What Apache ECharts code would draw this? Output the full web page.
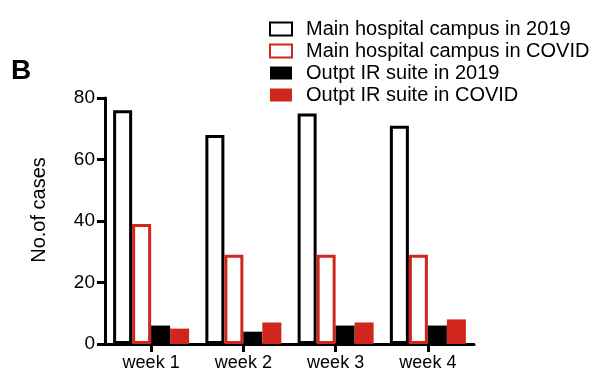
<!DOCTYPE html>
<html>
<head>
<meta charset="utf-8">
<script src="https://cdn.jsdelivr.net/npm/echarts@6/dist/echarts.min.js"></script>
<style>
  html, body { margin: 0; padding: 0; background: #fff; }
  #chart { width: 596px; height: 375px; }
</style>
</head>
<body>
<div id="chart"></div>
<script>
// Weekly case counts: main hospital campus vs. outpatient IR suite
const weeks = ['week 1', 'week 2', 'week 3', 'week 4'];
const seriesNames = [
  'Main hospital campus in 2019',
  'Main hospital campus in COVID',
  'Outpt IR suite in 2019',
  'Outpt IR suite in COVID'
];
const mainCampus2019 = [76, 68, 75, 71];
const mainCampusCovid = [39, 29, 29, 29];
const outptIR2019 = [6, 4, 6, 6];
const outptIRCovid = [5, 7, 7, 8];
const yTicks = { min: 0, max: 80, interval: 20 };

const RED = '#d0261b';
const FONT = 'Liberation Sans, Arial, Helvetica, sans-serif';

const chart = echarts.init(document.getElementById('chart'), null, { renderer: 'canvas' });

function barSeries(name, data, fill, stroke, bw) {
  return {
    name: name,
    type: 'bar',
    xAxisIndex: 0,
    yAxisIndex: 0,
    data: data,
    barWidth: 19,
    barGap: '0%',
    itemStyle: { color: fill, borderColor: stroke, borderWidth: bw },
    emphasis: { disabled: true }
  };
}

const tickStyle = { show: true, length: 8, lineStyle: { color: '#000', width: 3 } };

chart.setOption({
  animation: false,
  textStyle: { fontFamily: FONT },
  grid: { left: 105, right: 122, top: 98, bottom: 31, containLabel: false },
  legend: {
    orient: 'vertical',
    left: 269,
    top: 19,
    padding: 0,
    itemWidth: 22,
    itemHeight: 13,
    itemGap: 2,
    icon: 'rect',
    selectedMode: false,
    textStyle: { fontSize: 20, color: '#000', fontFamily: FONT, padding: [0, 0, 0, 9] },
    data: seriesNames
  },
  xAxis: [
    {
      // labelled category axis
      type: 'category',
      data: weeks,
      axisLine: { show: true, lineStyle: { color: '#000', width: 3 } },
      axisTick: { show: false },
      axisLabel: { color: '#000', fontSize: 18, margin: 10, fontFamily: FONT }
    },
    {
      // tick marks only
      type: 'category',
      data: weeks,
      position: 'bottom',
      axisLine: { show: false },
      axisTick: Object.assign({ alignWithLabel: true }, tickStyle),
      axisLabel: { show: false },
      splitLine: { show: false }
    }
  ],
  yAxis: [
    {
      type: 'value',
      min: yTicks.min,
      max: yTicks.max,
      interval: yTicks.interval,
      name: 'No.of cases',
      nameLocation: 'middle',
      nameGap: 56,
      nameTextStyle: { color: '#000', fontSize: 20, fontFamily: FONT, padding: [0, 0, 0, 22] },
      splitLine: { show: false },
      axisLine: { show: true, lineStyle: { color: '#000', width: 3 } },
      axisTick: { show: false },
      axisLabel: { color: '#000', fontSize: 19, margin: 10, fontFamily: FONT }
    },
    {
      // tick marks only
      type: 'value',
      min: yTicks.min,
      max: yTicks.max,
      interval: yTicks.interval,
      position: 'left',
      splitLine: { show: false },
      axisLine: { show: false },
      axisTick: tickStyle,
      axisLabel: { show: false }
    }
  ],
  graphic: [{
    type: 'text',
    left: 11,
    top: 57,
    style: { text: 'B', fontSize: 28, fontWeight: 'bold', fill: '#000', fontFamily: FONT }
  }],
  series: [
    barSeries(seriesNames[0], mainCampus2019, '#fff', '#000', 3),
    barSeries(seriesNames[1], mainCampusCovid, '#fff', RED, 3),
    barSeries(seriesNames[2], outptIR2019, '#000', '#000', 0),
    barSeries(seriesNames[3], outptIRCovid, RED, RED, 0)
  ]
});
</script>
</body>
</html>
